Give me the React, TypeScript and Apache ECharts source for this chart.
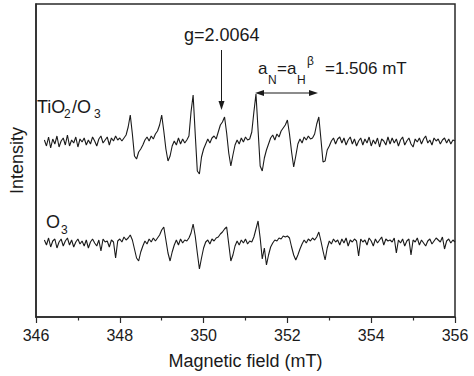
import React, { useEffect, useRef } from "react";
import * as echarts from "echarts";

// Magnetic field sampling (mT)
const FIELD_START = 346.2;
const FIELD_STEP = 0.05;

// TiO2/O3 spectrum, intensity relative to its own baseline (a.u.)
const tio2O3Signal = [
  2, -4, 5, -6, 3, -2, 6, -5, 1, 4,
  -3, 7, -4, 2, -1, 5, -5, 3, 0, 4,
  -3, 2, -2, 5, 1, -4, 3, 6, -1, 2,
  5, -3, 4, 1, 6, 2, 4, 1, 4, 7,
  15, 27, 8, -14, -17, -10, -7, -3, 2, 5,
  1, 6, 3, 8, 11, 17, 27, 11, -7, -19,
  -14, -4, 1, -3, 4, -2, 3, -1, 2, 6,
  30, 47, 8, -29, -32, -15, -7, -2, 3, -1,
  4, 6, 3, 10, 17, 20, 25, 9, -11, -24,
  -13, -3, 2, -2, 4, 0, 5, 2, 3, 10,
  30, 48, 12, -24, -29, -16, -8, -2, 4, 7,
  2, 8, 5, 11, 14, 17, 22, 8, -10, -25,
  -14, -2, 3, -1, 5, 2, 6, 3, 4, 8,
  18, 25, 3, -20, -19, -8, -4, 1, 4, -2,
  3, 5, -1, 4, -3, 2, 5, -2, 3, -4,
  1, 4, -3, 3, -1, 5, -4, 2, -2, 4,
  -5, 3, 1, -3, 5, -2, 4, -1, 3, -4,
  2, 5, -3, 1, 4, -2, -5, 3, 0, 4,
  -2, 3, 6, -1, 2, -3, 4, 1, 3, -2,
  2, 4, -1, 3, -2, 2, 1,
];

// O3 spectrum, intensity relative to its own baseline (a.u.)
const o3Signal = [
  3, -2, 5, -4, 2, 4, -5, 1, 4, -3,
  2, 5, -2, 3, -4, 1, 4, -1, 2, -3,
  3, -5, 1, 4, 0, -3, 3, -8, 4, 1,
  2, -4, 3, 1, -15, 2, 4, 1, 6, 3,
  5, 8, 3, -6, -15, -18, -9, -3, 2, -1,
  4, 1, 5, 2, 5, 8, 13, 16, 3, -10,
  -18, -9, -2, 3, -2, 4, 0, 3, 2, 5,
  10, 19, 7, -10, -26, -15, -5, 1, 3, -1,
  4, 2, 5, 6, 9, 11, 14, 16, -1, -18,
  -12, -3, 2, -2, 3, 0, 4, -1, 2, 1,
  6, 14, 22, 5, -16, -5, -22, -12, -4, 0,
  3, 2, 5, 4, 7, 6, 7, 5, -4, -12,
  -17, -12, -6, -1, 3, 0, 4, 2, 5, 3,
  6, 11, 2, -8, -17, -5, 2, -1, 4, 1,
  3, -2, 4, 0, 5, -3, 3, 1, 4, 2,
  -13, 4, 1, 3, -2, 5, 2, -3, 4, 0,
  3, 6, -2, 4, 2, 3, 1, 5, -10, 3,
  0, 4, -3, 2, 4, -12, 3, 1, 5, -2,
  3, 0, -3, 2, 4, -1, 2, 5, 3, 1,
  6, -6, 2, 4, 0, 3, 1,
];

// Vertical offsets of the stacked spectra (a.u.)
const TIO2_OFFSET = 175;
const O3_OFFSET = 74;

// Axis ticks
const X_MIN = 346;
const X_MAX = 356;
const X_INTERVAL = 2;
const Y_MIN = 0;
const Y_MAX = 313;

const FONT = "'Liberation Sans', Arial, Helvetica, sans-serif";
const INK = "#1a1a1a";

function buildSeries(signal: number[], offset: number) {
  return signal.map((v, i) => [
    +(FIELD_START + i * FIELD_STEP).toFixed(3),
    v + offset,
  ]);
}

function txt(text: string, x: number, y: number, size: number) {
  return {
    type: "text",
    x,
    y,
    style: {
      text,
      fontSize: size,
      fontFamily: FONT,
      fill: INK,
      align: "left",
      verticalAlign: "middle",
    },
  };
}

export default function App() {
  const ref = useRef<HTMLDivElement>(null);

  useEffect(() => {
    if (!ref.current) return;
    const chart = echarts.init(ref.current, undefined, { renderer: "svg" });
    const option: any = {
      animation: false,
      backgroundColor: "#ffffff",
      grid: {
        left: 31,
        right: 19,
        top: 4,
        bottom: 59,
        show: true,
        borderColor: "#2a2a2a",
        borderWidth: 1.5,
        containLabel: false,
      },
      xAxis: {
        type: "value",
        min: X_MIN,
        max: X_MAX,
        interval: X_INTERVAL,
        axisLine: { show: true, onZero: false, lineStyle: { color: "#2a2a2a", width: 1.5 } },
        axisTick: { show: true, inside: false, length: 6, lineStyle: { color: "#2a2a2a", width: 1.2 } },
        minorTick: { show: true, splitNumber: 2, length: 3.5, lineStyle: { color: "#2a2a2a", width: 1.2 } },
        splitLine: { show: false },
        minorSplitLine: { show: false },
        axisLabel: { fontSize: 16, color: INK, margin: 10, fontFamily: FONT },
        name: "Magnetic field (mT)",
        nameLocation: "middle",
        nameGap: 35,
        nameTextStyle: { fontSize: 18, color: INK, fontFamily: FONT },
      },
      yAxis: {
        type: "value",
        min: Y_MIN,
        max: Y_MAX,
        axisLine: { show: true, lineStyle: { color: "#2a2a2a", width: 1.5 } },
        axisTick: { show: false },
        axisLabel: { show: false },
        splitLine: { show: false },
        name: "Intensity",
        nameLocation: "middle",
        nameRotate: 90,
        nameGap: 10,
        nameTextStyle: { fontSize: 18, color: INK, fontFamily: FONT },
      },
      series: [
        {
          name: "TiO2/O3",
          type: "line",
          data: buildSeries(tio2O3Signal, TIO2_OFFSET),
          showSymbol: false,
          lineStyle: { color: INK, width: 1.1 },
        },
        {
          name: "O3",
          type: "line",
          data: buildSeries(o3Signal, O3_OFFSET),
          showSymbol: false,
          lineStyle: { color: INK, width: 1.1 },
        },
      ],
      graphic: [
        txt("TiO", 37, 106.5, 18),
        txt("2", 64, 114, 12),
        txt("/O", 72, 106.5, 18),
        txt("3", 94, 114, 12),
        txt("O", 46, 222, 18),
        txt("3", 61, 230, 12),
        txt("g=2.0064", 184, 35, 18),
        txt("a", 258, 68, 17),
        txt("N", 268, 80, 12),
        txt("=a", 277, 68, 17),
        txt("H", 297, 80, 12),
        txt("β", 307, 61, 12),
        txt("=1.506 mT", 325, 68, 17),
        {
          type: "line",
          shape: { x1: 221.5, y1: 50, x2: 221.5, y2: 103 },
          style: { stroke: INK, lineWidth: 1 },
        },
        {
          type: "polygon",
          shape: { points: [[221.5, 110], [218.5, 101], [224.5, 101]] },
          style: { fill: INK },
        },
        {
          type: "line",
          shape: { x1: 260, y1: 93, x2: 313, y2: 93 },
          style: { stroke: INK, lineWidth: 1.2 },
        },
        {
          type: "polygon",
          shape: { points: [[255, 93], [264, 90], [264, 96]] },
          style: { fill: INK },
        },
        {
          type: "polygon",
          shape: { points: [[318, 93], [309, 90], [309, 96]] },
          style: { fill: INK },
        },
      ],
    };
    chart.setOption(option);
    return () => chart.dispose();
  }, []);

  return (
    <div
      ref={ref}
      style={{ position: "fixed", left: 0, top: 0, width: 474, height: 376, background: "#fff" }}
    />
  );
}
